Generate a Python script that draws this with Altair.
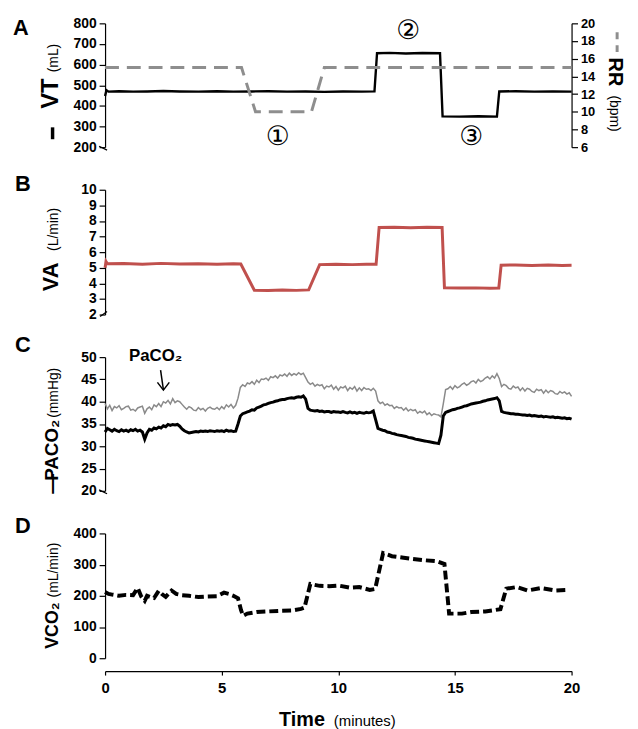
import altair as alt
import pandas as pd

# ---------------- data ----------------
time_ticks = [0, 5, 10, 15, 20]

# Panel A: tidal volume (mL) and respiratory rate (bpm)
vt_time = [0, 0.06, 0.15, 0.6, 1.2, 1.8, 2.5, 3.2, 4.0, 4.8,
           5.5, 6.3, 7.0, 7.8, 8.6, 9.4, 10.2, 11.0, 11.55, 11.66,
           12.2, 12.9, 13.6, 14.36, 14.47, 15.2, 16.0, 16.8, 16.9, 17.6,
           18.4, 19.2, 20.0]
vt_ml = [448, 476, 469, 471, 469, 470, 472, 470, 469, 471,
         469, 470, 471, 469, 470, 468, 470, 469, 470, 655,
         657, 654, 656, 655, 349, 348, 350, 348, 470, 471,
         469, 470, 469]
rr_time = [0, 5.85, 6.45, 8.85, 9.4, 20]
rr_bpm = [15, 15, 10, 10, 15, 15]
vt_ticks = [200, 300, 400, 500, 600, 700, 800]
rr_ticks = [6, 8, 10, 12, 14, 16, 18, 20]
phase_labels = ["①", "②", "③"]
phase_time = [7.4, 13.0, 15.7]
phase_vt = [250, 762, 250]

# Panel B: alveolar ventilation (L/min)
va_time = [0, 0.04, 0.1, 0.8, 1.6, 2.4, 3.2, 4.0, 4.8, 5.5,
           5.82, 6.4, 7.0, 7.6, 8.2, 8.73, 9.2, 9.9, 10.6, 11.2,
           11.62, 11.75, 12.4, 13.1, 13.8, 14.45, 14.55, 15.2, 15.9, 16.5,
           16.88, 16.98, 17.6, 18.3, 19.0, 19.6, 20.0]
va_lmin = [5.0, 5.4, 5.25, 5.27, 5.22, 5.28, 5.24, 5.26, 5.22, 5.25,
           5.24, 3.56, 3.54, 3.57, 3.55, 3.58, 5.2, 5.23, 5.2, 5.22,
           5.22, 7.58, 7.6, 7.57, 7.6, 7.58, 3.72, 3.7, 3.71, 3.69,
           3.7, 5.16, 5.18, 5.15, 5.17, 5.15, 5.16]
va_ticks = [2, 3, 4, 5, 6, 7, 8, 9, 10]

# Panel C: PaCO2 (arterial, grey) and PACO2 (alveolar, black), sampled every 0.1 min
co2_time = [round(0.1 * i, 1) for i in range(201)]
paco2_arterial = [
    39.6, 38.4, 39.2, 38.0, 38.9, 38.6, 39.1, 38.2, 38.5, 38.9,
    39.0, 38.1, 38.3, 37.9, 38.6, 38.8, 39.0, 37.4, 38.4, 38.8,
    38.2, 39.3, 38.9, 39.6, 38.9, 40.0, 39.7, 40.3, 39.5, 40.7,
    39.8, 40.2, 40.0, 39.4, 38.8, 38.3, 38.9, 38.6, 38.1, 38.0,
    38.7, 38.2, 38.5, 37.9, 38.5, 38.8, 38.4, 38.3, 38.7, 38.2,
    38.9, 38.4, 39.3, 38.8, 39.4, 38.6, 39.2, 40.8, 43.2, 43.8,
    43.4, 44.2, 44.0, 44.5, 43.9, 44.8, 44.3, 45.1, 45.0, 45.3,
    44.8, 45.6, 45.4, 45.8, 45.3, 46.0, 45.8, 46.2, 45.7, 46.4,
    45.9, 46.3, 46.0, 46.5, 46.1, 46.4, 45.4, 44.4, 43.9, 44.2,
    43.5, 43.9, 43.6, 43.8, 42.9, 43.5, 43.3, 43.7, 42.8, 43.4,
    42.6, 43.3, 43.1, 43.5, 42.5, 43.2, 42.8, 43.4, 42.4, 43.1,
    42.5, 43.2, 42.8, 42.9, 42.5, 43.0, 42.4, 40.2, 39.6, 39.9,
    39.2, 39.5, 39.1, 39.2, 38.5, 38.9, 38.6, 38.7, 38.1, 38.6,
    37.9, 38.3, 38.0, 38.2, 37.4, 37.8, 37.5, 37.9, 37.1, 37.5,
    36.9, 37.3, 37.1, 37.0, 36.6, 39.5, 42.7, 42.9, 43.4, 42.8,
    43.6, 43.1, 43.4, 43.9, 44.2, 43.7, 44.0, 44.5, 44.7, 44.2,
    45.0, 44.5, 44.8, 45.3, 45.6, 45.1, 45.8, 45.3, 46.3, 45.2,
    43.4, 43.9, 43.6, 43.0, 42.8, 43.5, 43.1, 43.3, 42.5, 43.1,
    42.4, 43.0, 42.8, 42.3, 42.1, 42.8, 42.5, 42.7, 41.9, 42.6,
    42.0, 42.5, 42.3, 41.8, 41.7, 42.3, 41.9, 42.2, 41.7, 42.0,
    41.2]
paco2_alveolar = [
    33.2, 34.0, 33.7, 33.4, 33.8, 33.5, 33.3, 33.7, 33.4, 33.6,
    33.3, 33.7, 33.5, 33.8, 33.4, 33.6, 33.2, 31.6, 33.0, 33.8,
    33.6, 34.1, 33.9, 34.3, 34.1, 34.6, 34.4, 34.9, 34.7, 34.9,
    34.8, 34.9, 34.5, 33.9, 33.5, 33.2, 33.0, 33.1, 33.2, 33.3,
    33.2, 33.4, 33.3, 33.4, 33.3, 33.5, 33.4, 33.3, 33.5, 33.4,
    33.5, 33.3, 33.6, 33.4, 33.5, 33.3, 33.4, 35.0, 36.8, 37.3,
    37.5, 37.7, 37.9, 38.2, 38.1, 38.6, 38.8, 39.0, 39.3, 39.4,
    39.6, 39.8, 39.9, 40.1, 40.2, 40.4, 40.5, 40.5, 40.7, 40.8,
    40.9, 40.8, 41.0, 41.1, 41.0, 41.3, 40.6, 38.5, 38.1, 38.0,
    37.9, 38.0, 37.8, 37.9, 37.7, 37.8, 37.8, 37.6, 37.8, 37.7,
    37.7, 37.6, 37.8, 37.6, 37.5, 37.7, 37.5, 37.6, 37.4, 37.6,
    37.5, 37.4, 37.6, 37.5, 37.6, 37.9, 36.0, 34.0, 33.8, 33.6,
    33.5, 33.2, 33.1, 32.9, 32.8, 32.6, 32.5, 32.4, 32.3, 32.2,
    32.0, 31.9, 31.8, 31.6, 31.5, 31.4, 31.3, 31.2, 31.1, 31.0,
    30.9, 30.8, 30.7, 30.6, 32.5, 36.8, 37.6, 37.8, 38.0, 38.2,
    38.3, 38.5, 38.6, 38.8, 39.0, 39.1, 39.3, 39.5, 39.6, 39.7,
    39.8, 39.9, 40.1, 40.2, 40.4, 40.5, 40.6, 40.7, 40.9, 40.2,
    37.8, 37.6, 37.5, 37.4, 37.3, 37.3, 37.2, 37.2, 37.1, 37.0,
    37.0, 36.9, 37.0, 36.8, 36.9, 36.8, 36.7, 36.8, 36.6, 36.7,
    36.6, 36.5, 36.6, 36.4, 36.5, 36.4, 36.3, 36.4, 36.2, 36.3,
    36.1]
co2_ticks = [20, 25, 30, 35, 40, 45, 50]

# Panel D: CO2 output (mL/min)
vco2_time = [0, 0.15, 0.3, 0.6, 0.9, 1.2, 1.4, 1.55, 1.7, 1.8,
             1.95, 2.1, 2.3, 2.45, 2.6, 2.85, 3.05, 3.3, 3.6, 4.0,
             4.4, 4.8, 5.1, 5.3, 5.5, 5.7, 5.83, 5.92, 6.1, 6.5,
             7.0, 7.5, 8.0, 8.4, 8.55, 8.8, 9.2, 9.6, 10.0, 10.5,
             10.9, 11.35, 11.58, 11.92, 12.3, 12.8, 13.2, 13.7, 14.2, 14.55,
             14.75, 15.3, 15.7, 16.3, 16.95, 17.2, 17.65, 18.1, 18.7, 19.3,
             19.9]
vco2_mlmin = [212, 206, 204, 200, 203, 202, 225, 198, 184, 200,
              196, 193, 216, 205, 197, 217, 206, 202, 200, 196,
              198, 199, 210, 206, 200, 192, 154, 136, 143, 148,
              150, 152, 153, 158, 162, 238, 232, 231, 233, 226,
              228, 219, 222, 337, 327, 322, 318, 314, 311, 302,
              143, 143, 148, 150, 157, 223, 228, 217, 225, 217,
              219]
vco2_ticks = [0, 100, 200, 300, 400]

# ---------------- helpers ----------------
W = 471
FONT = "Liberation Sans"
X_SCALE = alt.Scale(domain=[0, 20], nice=False, zero=False)


def xenc(axis=None):
    return alt.X("t:Q", scale=X_SCALE, axis=axis, title=None)


def yscale(lo, hi):
    return alt.Scale(domain=[lo, hi], nice=False, zero=False)


def yaxis(values, orient="left", size=14):
    return alt.Axis(values=values, orient=orient, title=None, tickSize=6, labelPadding=3,
                    labelFontSize=size, labelFontWeight="bold", labelFont=FONT,
                    labelColor="black", domainColor="black", tickColor="black",
                    domainWidth=1.2, tickWidth=1.2, grid=False, labelFlush=False,
                    labelOverlap=False)


def blank():
    return alt.Chart(alt.Data(values=[{}]))


def txt(text, x, y, size, bold=True, angle=0, align="center", baseline="middle",
        color="black", font=FONT):
    return blank().mark_text(
        text=text, fontSize=size, fontWeight="bold" if bold else "normal",
        angle=angle, align=align, baseline=baseline, color=color, font=font
    ).encode(x=alt.value(x), y=alt.value(y))


def seg(x1, y1, x2, y2, width=1.2, color="black", dash=None):
    kw = {"color": color, "strokeWidth": width}
    if dash:
        kw["strokeDash"] = dash
    return blank().mark_rule(**kw).encode(
        x=alt.value(x1), y=alt.value(y1), x2=alt.value(x2), y2=alt.value(y2))


# ---------------- panel A ----------------
hA = 125
vt_df = pd.DataFrame({"t": vt_time, "v": vt_ml})
rr_df = pd.DataFrame({"t": rr_time, "v": rr_bpm})
ph_df = pd.DataFrame({"t": phase_time, "v": phase_vt, "label": phase_labels})

vt_line = alt.Chart(vt_df).mark_line(color="black", strokeWidth=2.4).encode(
    x=xenc(), y=alt.Y("v:Q", scale=yscale(200, 800), axis=yaxis(vt_ticks)))
rr_line = alt.Chart(rr_df).mark_line(color="#8e8e8e", strokeWidth=3, strokeDash=[14, 8]).encode(
    x=xenc(), y=alt.Y("v:Q", scale=yscale(6, 20), axis=yaxis(rr_ticks, "right", 13)))
phases = alt.Chart(ph_df).mark_text(font="DejaVu Sans", fontSize=27, color="black").encode(
    x=xenc(), y=alt.Y("v:Q", scale=yscale(200, 800), axis=None), text="label:N")

panelA = alt.layer(
    vt_line, rr_line, phases,
    txt("A", -93, 5, 22, align="left"),
    seg(-53, 105, -53, 117, width=3.5),
    txt("VT", -48, 71, 24, angle=270, baseline="alphabetic"),
    txt("(mL)", -48, 35, 14, bold=False, angle=270, baseline="alphabetic"),
    txt("RR", W + 38, 49, 20, angle=90, baseline="alphabetic"),
    txt("(bpm)", W + 39, 91, 14, bold=False, angle=90, baseline="alphabetic"),
    seg(W + 46, 9, W + 46, 29, width=3, color="#8e8e8e", dash=[7, 6]),
    seg(-6, hA - 1, 2, hA + 3),
).resolve_scale(y="independent").properties(width=W, height=hA)

# ---------------- panel B ----------------
hB = 126
va_df = pd.DataFrame({"t": va_time, "v": va_lmin})
va_line = alt.Chart(va_df).mark_line(color="#c0504d", strokeWidth=3).encode(
    x=xenc(), y=alt.Y("v:Q", scale=yscale(2, 10), axis=yaxis(va_ticks)))
panelB = alt.layer(
    va_line,
    txt("B", -91, -6, 22, align="left"),
    txt("VA", -48, 88, 22, angle=270, baseline="alphabetic"),
    txt("(L/min)", -48, 40, 14, bold=False, angle=270, baseline="alphabetic"),
    seg(-5, hB + 2, 2, hB - 3),
).properties(width=W, height=hB)

# ---------------- panel C ----------------
hC = 135
co2_df = pd.DataFrame({"t": co2_time, "arterial": paco2_arterial, "alveolar": paco2_alveolar})
ann_df = pd.DataFrame({"t": [2.17], "v": [50.2], "label": ["PaCO₂"]})
arrow_df = pd.DataFrame({"t": [2.38], "v": [47.1], "t2": [2.5], "v2": [42.7]})
head_df = pd.DataFrame({"t": [2.5], "v": [42.6]})
yC = alt.Y("v:Q", scale=yscale(20, 50), axis=yaxis(co2_ticks))

gray_line = alt.Chart(co2_df).mark_line(color="#8a8a8a", strokeWidth=1.5).encode(
    x=xenc(), y=alt.Y("arterial:Q", scale=yscale(20, 50), axis=yaxis(co2_ticks)))
black_line = alt.Chart(co2_df).mark_line(color="black", strokeWidth=3).encode(
    x=xenc(), y=alt.Y("alveolar:Q", scale=yscale(20, 50), axis=yaxis(co2_ticks)))
ann = alt.Chart(ann_df).mark_text(font=FONT, fontSize=17, fontWeight="bold", color="black").encode(
    x=xenc(), y=yC, text="label:N")
arrow = alt.Chart(arrow_df).mark_rule(color="black", strokeWidth=1.5).encode(
    x=xenc(), y=yC, x2="t2:Q", y2="v2:Q")
head = alt.Chart(head_df).mark_point(shape="M -1 -1.3 L 0 0 L 1 -1.3", size=144, filled=False,
                                     color="black", strokeWidth=1.5, opacity=1).encode(
    x=xenc(), y=yC)

panelC = alt.layer(
    gray_line, black_line, ann, arrow, head,
    txt("C", -91, -12, 22, align="left"),
    txt("—", -48, 128, 20, angle=270, baseline="alphabetic"),
    txt("PACO₂", -48, 94, 19, angle=270, baseline="alphabetic"),
    txt("(mmHg)", -48, 36, 14, bold=False, angle=270, baseline="alphabetic"),
    seg(-6, hC - 1, 2, hC + 3),
).properties(width=W, height=hC)

# ---------------- panel D ----------------
hD = 126
vco2_df = pd.DataFrame({"t": vco2_time, "v": vco2_mlmin})
xaxis = alt.Axis(values=time_ticks, offset=13, tickSize=4, labelPadding=6, labelFontSize=15,
                 labelFontWeight="bold", labelFont=FONT, labelColor="black",
                 domainColor="black", tickColor="black", domainWidth=1.2, tickWidth=1.2,
                 labelFlush=False, title=None, grid=False)
vco2_line = alt.Chart(vco2_df).mark_line(color="black", strokeWidth=4, strokeDash=[9, 4]).encode(
    x=xenc(xaxis), y=alt.Y("v:Q", scale=yscale(0, 400), axis=yaxis(vco2_ticks)))
panelD = alt.layer(
    vco2_line,
    txt("D", -91, -7, 22, align="left"),
    txt("VCO₂", -48, 93, 18, angle=270, baseline="alphabetic"),
    txt("(mL/min)", -48, 37, 14, bold=False, angle=270, baseline="alphabetic"),
    txt("Time", 222, 188, 20, align="right"),
    txt("(minutes)", 231, 189, 15, bold=False, align="left"),
).properties(width=W, height=hD)

chart = alt.vconcat(panelA, panelB, panelC, panelD, spacing=43, bounds="flush").properties(
    padding={"left": 5, "top": 5, "right": 5, "bottom": 0}
).configure(font=FONT).configure_view(stroke="transparent", strokeWidth=0)

chart.save("out.html", embed_options={"renderer": "svg", "actions": False})
